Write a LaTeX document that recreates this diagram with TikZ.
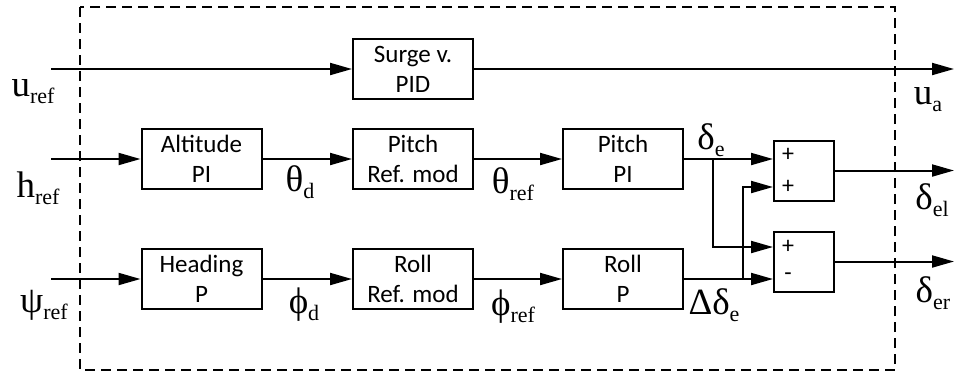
\documentclass[tikz,border=0pt]{standalone}
\usepackage{fontspec}
\setmainfont{Liberation Serif}
\newfontfamily\boite{Carlito}
\usetikzlibrary{arrows.meta}
\newcommand{\sig}[2]{{\fontsize{18.5}{18.5}\selectfont #1}\raisebox{-3.5pt}{\fontsize{11}{11}\selectfont #2}}
\tikzset{
  bloc/.style={draw,line width=1pt,minimum width=60pt,minimum height=30pt,inner sep=0pt,align=center,font=\boite\fontsize{12.5}{15}\selectfont},
  somme/.style={draw,line width=1pt,minimum width=30pt,minimum height=30pt,inner sep=0pt},
  signe/.style={inner sep=0pt,font=\boite\fontsize{12}{12}\selectfont},
  fleche/.style={line width=1pt,-{Triangle[length=11pt,width=6pt]}},
  lien/.style={line width=1pt},
  etiq/.style={inner sep=0pt}
}
\begin{document}
\begin{tikzpicture}[x=0.5pt,y=-0.5pt] % une unite = un pixel
\useasboundingbox (0,0) rectangle (955,372);
\draw[line width=0.75pt,dash pattern=on 5pt off 3pt] (80,7) rectangle (895,370); % le cadre
% les blocs
\node[bloc] (surge) at (413,69) {Surge v.\\PID};
\node[bloc] (alt) at (201.5,159) {Altitude\\PI};
\node[bloc] (pref) at (413,159) {Pitch\\Ref. mod};
\node[bloc] (ppi) at (623,159) {Pitch\\PI};
\node[bloc] (head) at (201.5,279) {Heading\\P};
\node[bloc] (rref) at (413,279) {Roll\\Ref. mod};
\node[bloc] (rp) at (623,279) {Roll\\P};
\node[somme] (sum1) at (804,170.5) {};
\node[somme] (sum2) at (804,261.5) {};
\node[signe] (s1a) at (788,155) {+};
\node[signe] (s1b) at (788,187) {+};
\node[signe] (s2a) at (788,247) {+};
\node[signe] (s2b) at (788,277) {-};
% entrees, sorties et branchements
\coordinate (uin) at (51,69);
\coordinate (hin) at (51,159);
\coordinate (psiin) at (51,279);
\coordinate (uout) at (954,69);
\coordinate (elout) at (954,170.5);
\coordinate (erout) at (954,261.5);
\coordinate (bde) at (713,159);
\coordinate (bdde) at (743,279);
% les liaisons
\draw[fleche] (uin) -- (surge);
\draw[fleche] (surge) -- (uout);
\draw[fleche] (hin) -- (alt);
\draw[fleche] (alt) -- (pref);
\draw[fleche] (pref) -- (ppi);
\draw[fleche] (ppi.east) -- (ppi.east -| sum1.west);
\draw[fleche] (psiin) -- (head);
\draw[fleche] (head) -- (rref);
\draw[fleche] (rref) -- (rp);
\draw[fleche] (rp.east) -- (rp.east -| sum2.west);
\draw[fleche] (bde) |- ([yshift=7.25pt]sum2.west);
\draw[fleche] (bdde) |- ([yshift=-8.25pt]sum1.west);
\draw[fleche] (sum1) -- (elout);
\draw[fleche] (sum2) -- (erout);
% les signaux
\node[etiq] (lu) at (33,92) {\sig{u}{ref}};
\node[etiq] (lh) at (38,188) {\sig{h}{ref}};
\node[etiq] (lpsi) at (44,305) {\sig{ψ}{ref}};
\node[etiq] (lthd) at (300,182) {\sig{θ}{d}};
\node[etiq] (lphd) at (304,305) {\sig{ϕ}{d}};
\node[etiq] (lthr) at (513,184) {\sig{θ}{ref}};
\node[etiq] (lphr) at (513,307) {\sig{ϕ}{ref}};
\node[etiq] (lde) at (711,140) {\sig{δ}{e}};
\node[etiq] (ldde) at (714,305) {\sig{Δδ}{e}};
\node[etiq] (lua) at (928,100) {\sig{u}{a}};
\node[etiq] (lel) at (932,200) {\sig{δ}{el}};
\node[etiq] (ler) at (933,293) {\sig{δ}{er}};
\end{tikzpicture}
\end{document}
